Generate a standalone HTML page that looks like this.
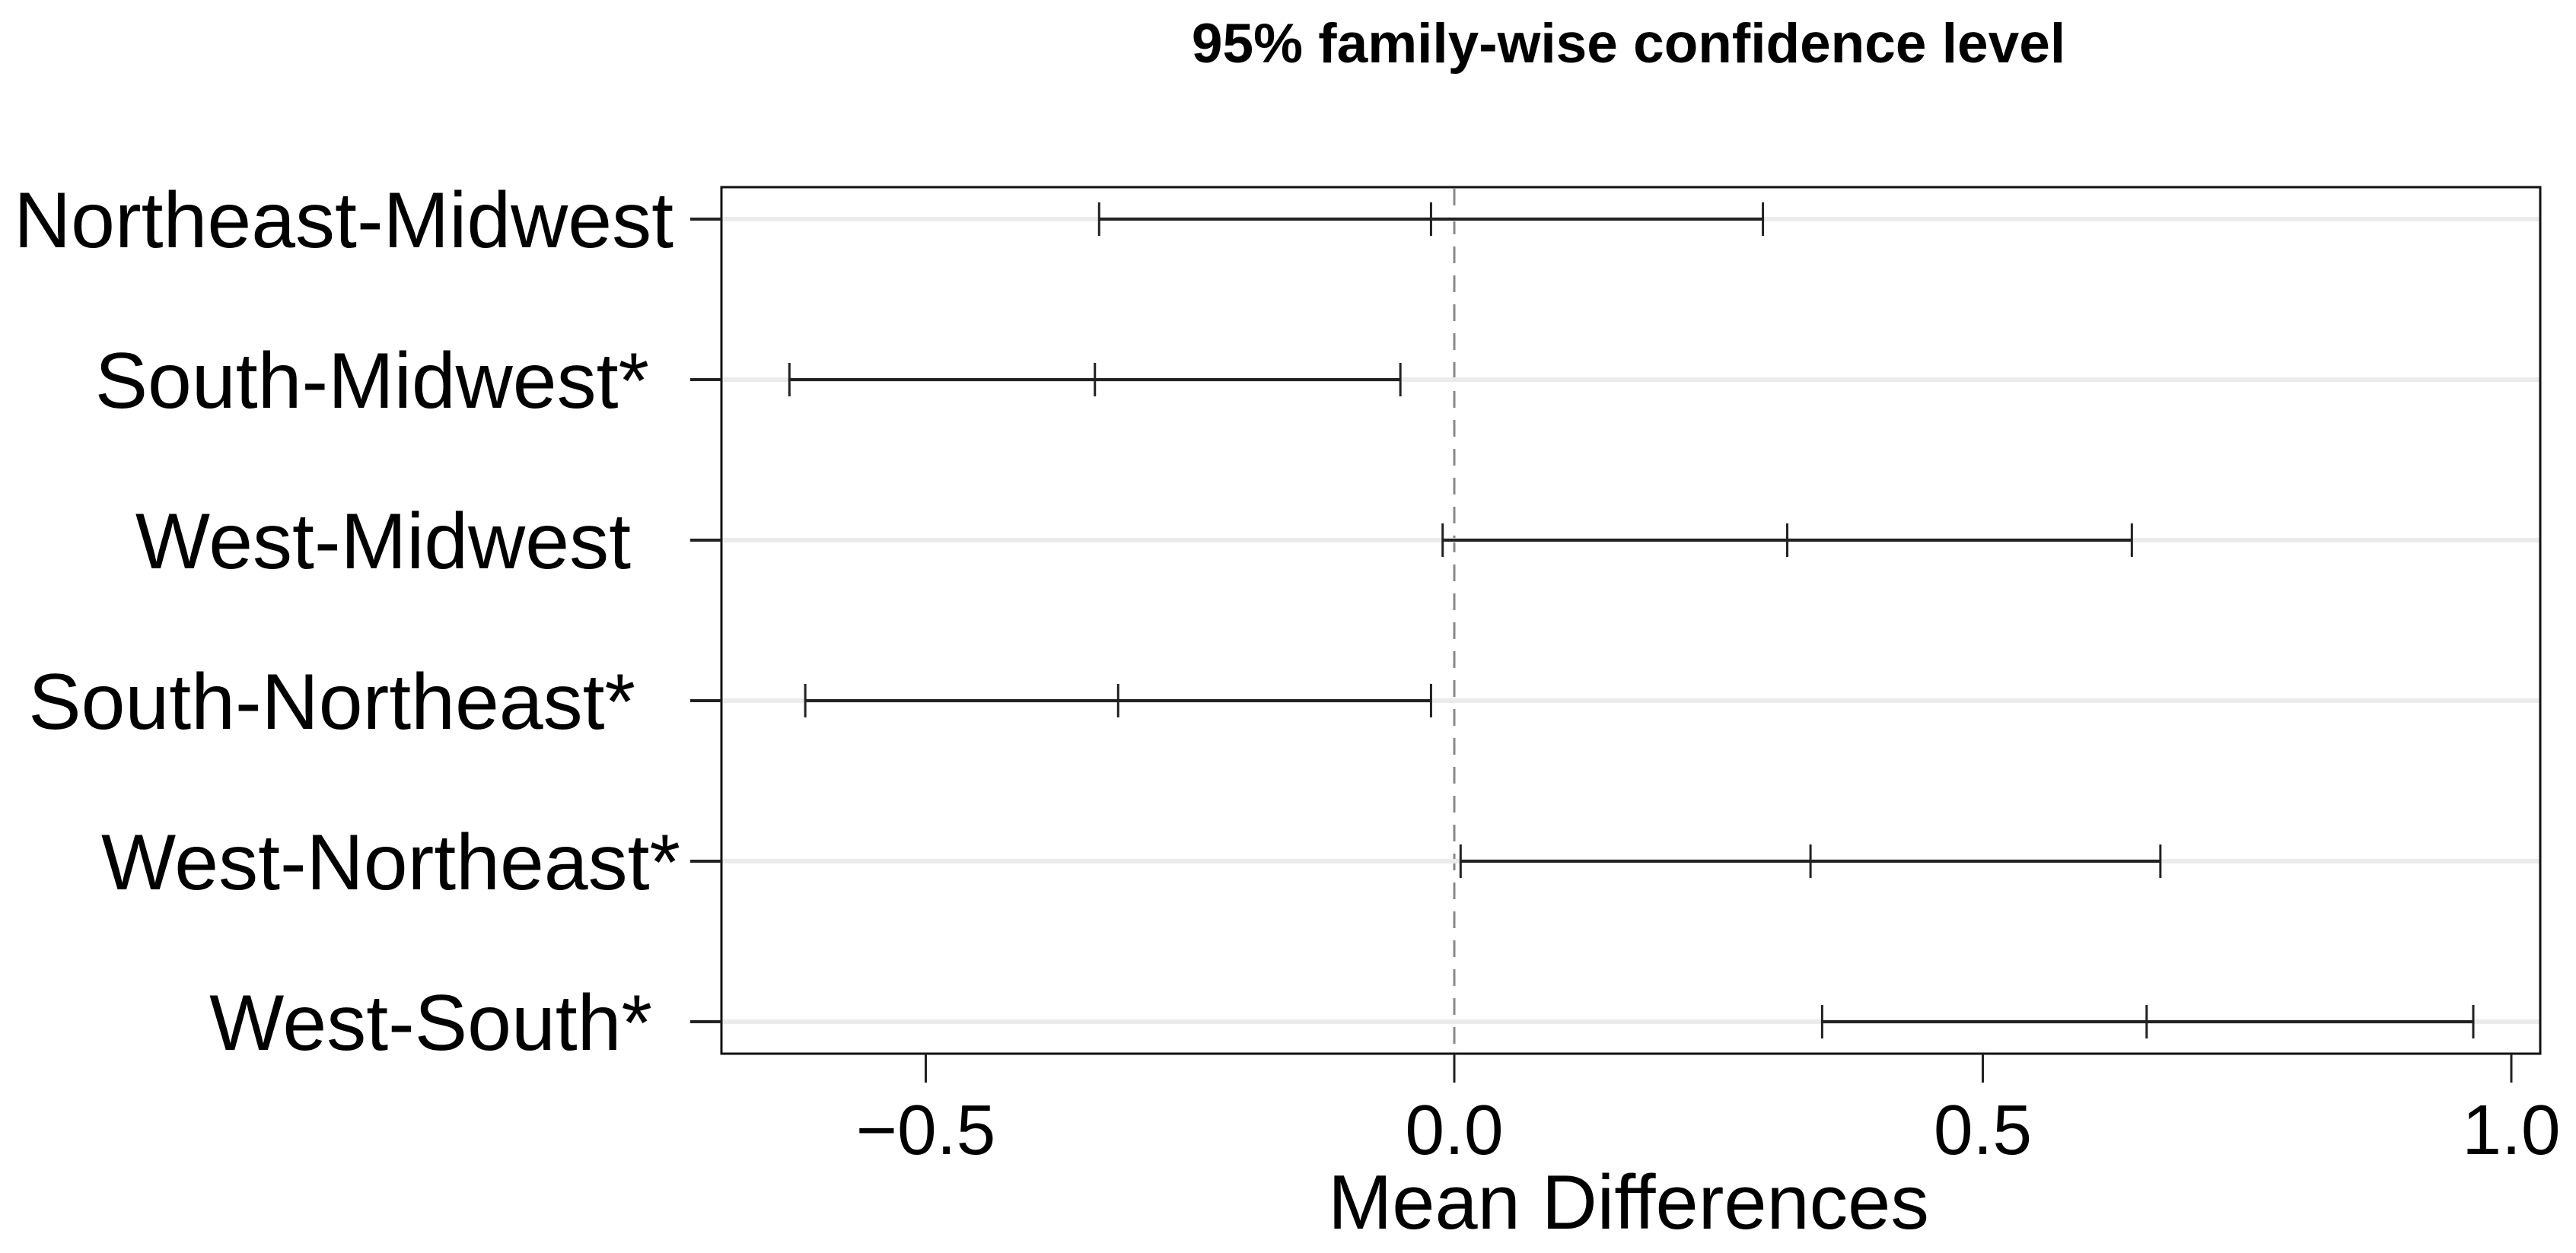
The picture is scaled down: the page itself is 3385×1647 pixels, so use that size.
<!DOCTYPE html>
<html><head><meta charset="utf-8"><style>
html,body{margin:0;padding:0;background:#fff;}
svg{display:block;font-family:"Liberation Sans",Arial,sans-serif;}
</style></head><body>
<svg id="chart" width="3385" height="1647" viewBox="0 0 3385 1647">
<text x="2140" y="82" text-anchor="middle" font-size="73" font-weight="bold">95% family-wise confidence level</text>
<g id="grid"></g>
<g id="marks"></g>
<rect x="948" y="246" width="2390" height="1139" fill="none" stroke="#111" stroke-width="3"/>
<g id="axes"></g>
<text x="2140" y="1615" text-anchor="middle" font-size="101">Mean Differences</text>
</svg>
<script>
const categories = ["Northeast-Midwest","South-Midwest*","West-Midwest","South-Northeast*","West-Northeast*","West-South*"];
const lowerValues = [-0.336,-0.629,-0.011,-0.614,0.006,0.348];
const diffValues = [-0.022,-0.340,0.315,-0.318,0.337,0.655];
const upperValues = [0.292,-0.051,0.641,-0.022,0.668,0.964];
const xTicks = [-0.5,0.0,0.5,1.0];
const xTickLabels = ["\u22120.5","0.0","0.5","1.0"];
const labelRight = [885,853,829,835,894,857];

const NS="http://www.w3.org/2000/svg";
const x = v => 1911 + v*1389;
const y = i => 288 + i*211;
function mk(tag, attrs, parent){const e=document.createElementNS(NS,tag);for(const k in attrs)e.setAttribute(k,attrs[k]);parent.appendChild(e);return e;}
const grid=document.getElementById('grid'), marks=document.getElementById('marks'), axes=document.getElementById('axes');

let z = mk('line',{x1:x(0),x2:x(0),y1:248,y2:1384,stroke:'#888','stroke-width':3,'stroke-dasharray':'22,16'},grid);



categories.forEach((c,i)=>{
  const yy=y(i);
  let g=mk('line',{x1:948,x2:3338,y1:yy,y2:yy,stroke:'#ebebeb','stroke-width':6},grid);
  
  
  let t=mk('line',{x1:907,x2:948,y1:yy,y2:yy,stroke:'#222','stroke-width':4},axes);
  
  
  let lb=mk('text',{x:labelRight[i],y:yy+37,'text-anchor':'end','font-size':104},axes);
  lb.textContent=c;
  
  
  let bar=mk('line',{x1:x(lowerValues[i]),x2:x(upperValues[i]),y1:yy,y2:yy,stroke:'#222','stroke-width':4},marks);
  
  
  [lowerValues[i],diffValues[i],upperValues[i]].forEach((v,j)=>{
    let cap=mk('line',{x1:x(v),x2:x(v),y1:yy-22,y2:yy+22,stroke:'#222','stroke-width':3},marks);
    
    
  });
});

xTicks.forEach((v,i)=>{
  let t=mk('line',{x1:x(v),x2:x(v),y1:1385,y2:1423,stroke:'#222','stroke-width':3},axes);
  
  
  let lb=mk('text',{x:x(v),y:1517,'text-anchor':'middle','font-size':93},axes);
  lb.textContent=xTickLabels[i];
  
  
});
</script>
</body></html>
